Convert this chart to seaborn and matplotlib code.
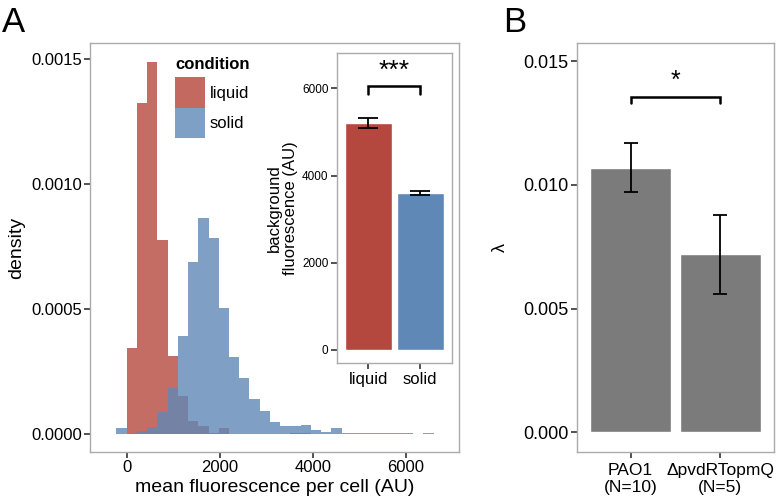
import numpy as np
import pandas as pd
import matplotlib
matplotlib.use("Agg")
import matplotlib.pyplot as plt
import seaborn as sns
from matplotlib.patches import Patch

# ── Data ──────────────────────────────────────────────────────────────────────

conditions = ["liquid", "solid"]

# histogram of mean fluorescence per cell (density per 220 AU bin, -220 .. 6600)
bin_edges = list(range(-220, 6601, 220))
liquid_density = [
    0.0, 0.000343, 0.001323, 0.001489, 0.000776, 0.000312, 0.000153, 0.000051,
    0.000033, 0.000005, 0.000023, 0.0, 0.0, 0.0, 0.0, 0.0,
    0.0, 0.000004, 0.000004, 0.0, 0.0, 0.0, 0.0, 0.0,
    0.0, 0.0, 0.0, 0.0, 0.0, 0.0, 0.0,
]
solid_density = [
    0.000023, 0.000004, 0.000013, 0.000027, 0.000089, 0.000183, 0.000392, 0.000689,
    0.000863, 0.000783, 0.000503, 0.000309, 0.000223, 0.000139, 0.000093, 0.000049,
    0.000033, 0.000033, 0.000035, 0.000016, 0.000008, 0.000023, 0.000003, 0.000003,
    0.000003, 0.000003, 0.000003, 0.000003, 0.000003, 0.0, 0.000003,
]

# inset: background fluorescence
background_mean = [5205, 3600]
background_err = [115, 40]

# panel B
strains = ["PAO1\n(N=10)", "ΔpvdRTopmQ\n(N=5)"]
lambda_mean = [0.01069, 0.00719]
lambda_err = [0.00100, 0.00161]

# ── Style ─────────────────────────────────────────────────────────────────────

sns.set_theme(style="white")
plt.rcParams["font.family"] = ["Liberation Sans", "DejaVu Sans"]
plt.rcParams["text.color"] = "black"
plt.rcParams["axes.labelcolor"] = "black"

red = "#B5483E"
blue = "#5F88B6"
red_light = "#C4695F"
blue_light = "#7FA0C5"
grey_bar = "#7B7B7B"
frame = "#ABABAB"


def style_axes(ax, ylab_size=12):
    for sp in ax.spines.values():
        sp.set_color(frame)
        sp.set_linewidth(1.0)
    ax.tick_params(axis="both", direction="out", length=4, width=1.2,
                   color="#333333", labelcolor="black", pad=2,
                   bottom=True, left=True)
    ax.tick_params(axis="y", labelsize=ylab_size)


fig = plt.figure(figsize=(7.8, 5.04), dpi=100)

# ── Panel A: histogram ────────────────────────────────────────────────────────

ax = fig.add_axes([0.1154, 0.1032, 0.4731, 0.8115])
centers = [(lo + hi) / 2 for lo, hi in zip(bin_edges[:-1], bin_edges[1:])]
hist_df = pd.DataFrame({
    "value": centers + centers,
    "density": liquid_density + solid_density,
    "condition": ["liquid"] * len(centers) + ["solid"] * len(centers),
})
for cond, col in zip(conditions, [red, blue]):
    sub = hist_df[hist_df["condition"] == cond]
    sns.histplot(data=sub, x="value", weights="density", bins=bin_edges,
                 stat="count", color=col, alpha=0.8, linewidth=0, ax=ax)

ax.set_xlim(-789, 7146)
ax.set_ylim(-0.000072, 0.001564)
ax.set_xticks([0, 2000, 4000, 6000])
ax.set_yticks([0, 0.0005, 0.0010, 0.0015])
ax.set_yticklabels(["0.0000", "0.0005", "0.0010", "0.0015"])
ax.set_xlabel("mean fluorescence per cell (AU)", fontsize=14, labelpad=3)
ax.set_ylabel("density", fontsize=14, labelpad=4)
style_axes(ax)
ax.tick_params(axis="x", labelsize=12)

handles = [Patch(facecolor=red_light, edgecolor="none"),
           Patch(facecolor=blue_light, edgecolor="none")]
leg = ax.legend(handles, conditions, title="condition", loc="upper left",
                bbox_to_anchor=(0.231, 0.966), frameon=False, fontsize=12,
                handlelength=1.8, handleheight=2.4, labelspacing=0,
                handletextpad=0.25, borderpad=0, borderaxespad=0,
                alignment="left")
leg.get_title().set_fontweight("bold")
leg.get_title().set_fontsize(12)
leg._legend_box.sep = 4

fig.text(0.003, 0.955, "A", fontsize=25, va="center", ha="left")

# ── Inset: background fluorescence ────────────────────────────────────────────

axi = fig.add_axes([0.4317, 0.2792, 0.1474, 0.6163])
bg_df = pd.DataFrame({"condition": conditions, "background": background_mean})
sns.barplot(data=bg_df, x="condition", y="background", hue="condition",
            palette=[red, blue], width=0.9, saturation=1, legend=False, ax=axi)
axi.errorbar(range(len(conditions)), background_mean, yerr=background_err,
             fmt="none", ecolor="black", elinewidth=1.3, capsize=7.5, capthick=1.3)
axi.plot([0, 0, 1, 1], [5862, 6055, 6055, 5862], color="black", lw=1.8,
         solid_joinstyle="miter")
axi.text(0.5, 6130, "***", ha="center", va="bottom", fontsize=19)
axi.set_xlim(-0.6, 1.6)
axi.set_ylim(-306, 6821)
axi.set_yticks([0, 2000, 4000, 6000])
axi.set_xlabel("")
axi.set_ylabel("background\nfluorescence (AU)", fontsize=12, labelpad=3,
               linespacing=1.1)
style_axes(axi, ylab_size=8.5)
axi.tick_params(axis="x", labelsize=12)

# ── Panel B: lambda ───────────────────────────────────────────────────────────

axb = fig.add_axes([0.7394, 0.1038, 0.2529, 0.8115])
lam_df = pd.DataFrame({"strain": strains, "lam": lambda_mean})
sns.barplot(data=lam_df, x="strain", y="lam", color=grey_bar, width=0.9,
            saturation=1, ax=axb)
axb.errorbar(range(len(strains)), lambda_mean, yerr=lambda_err,
             fmt="none", ecolor="black", elinewidth=1.3, capsize=5.3, capthick=1.3)
axb.plot([0, 0, 1, 1], [0.01329, 0.013556, 0.013556, 0.01329], color="black",
         lw=1.8, solid_joinstyle="miter")
axb.text(0.5, 0.0137, "*", ha="center", va="bottom", fontsize=18)
axb.set_xlim(-0.6, 1.6)
axb.set_ylim(-0.00078, 0.01574)
axb.set_yticks([0, 0.005, 0.010, 0.015])
axb.set_yticklabels(["0.000", "0.005", "0.010", "0.015"])
axb.set_xlabel("")
axb.set_ylabel("λ", fontsize=13, labelpad=10)
style_axes(axb, ylab_size=13)
axb.tick_params(axis="x", labelsize=12.5, pad=4)
for lab in axb.get_xticklabels():
    lab.set_linespacing(1.15)

fig.text(0.645, 0.955, "B", fontsize=25, va="center", ha="left")

fig.savefig("out.png", dpi=100)
